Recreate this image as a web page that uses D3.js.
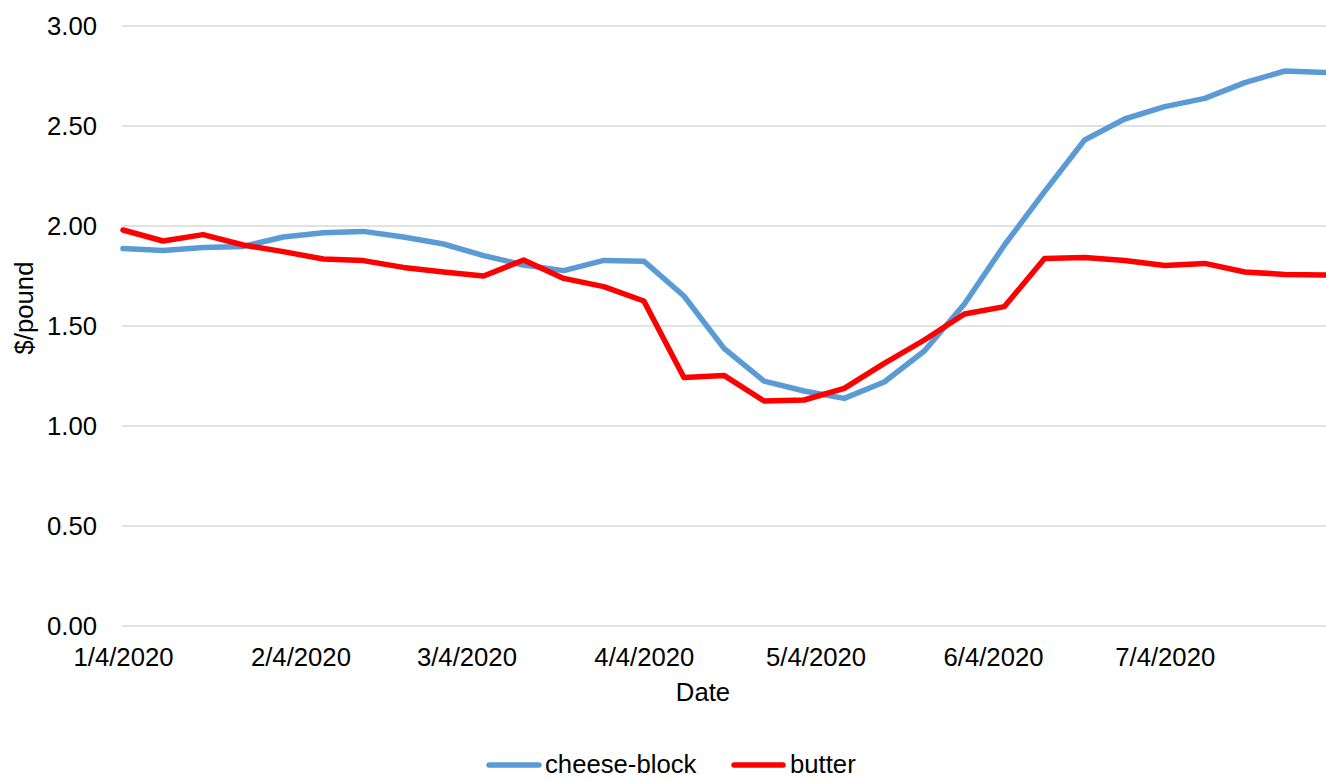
<!DOCTYPE html>
<html>
<head>
<meta charset="utf-8">
<script src="https://cdn.jsdelivr.net/npm/d3@7"></script>
<style>
  html, body { margin: 0; padding: 0; background: #fff; }
  svg { display: block; font-family: "Liberation Sans", Arial, sans-serif; }
</style>
</head>
<body>
<svg id="chart" width="1326" height="779"></svg>
<script>
// Weekly wholesale prices, $/pound, week starting 1/4/2020
const startDate = "2020-01-04";
const weekCount = 31;

const cheeseBlock = [
  1.887, 1.878, 1.892, 1.898, 1.945, 1.966, 1.973, 1.945, 1.910, 1.852,
  1.805, 1.777, 1.828, 1.824, 1.650, 1.388, 1.224, 1.175, 1.138, 1.220,
  1.375, 1.610, 1.905, 2.172, 2.430, 2.535, 2.597, 2.638, 2.717, 2.775,
  2.768
];

const butter = [
  1.980, 1.925, 1.957, 1.905, 1.872, 1.835, 1.827, 1.793, 1.770, 1.750,
  1.830, 1.738, 1.697, 1.625, 1.242, 1.253, 1.125, 1.130, 1.188, 1.313,
  1.430, 1.560, 1.597, 1.838, 1.843, 1.828, 1.802, 1.813, 1.770, 1.758,
  1.755
];

const seriesNames = ["cheese-block", "butter"];
const seriesColors = ["#5B9BD5", "#FF0000"];

const yTicks = [0, 0.5, 1.0, 1.5, 2.0, 2.5, 3.0];
const xTickLabels = ["1/4/2020", "2/4/2020", "3/4/2020", "4/4/2020", "5/4/2020", "6/4/2020", "7/4/2020"];

const parseDate = d3.timeParse("%Y-%m-%d");
const parseLabel = d3.timeParse("%-m/%-d/%Y");
const fmtLabel = d3.timeFormat("%-m/%-d/%Y");

const start = parseDate(startDate);
const dates = d3.range(weekCount).map(i => d3.timeDay.offset(start, 7 * i));

const svg = d3.select("#chart");
const fontSize = 25.7;

const x = d3.scaleTime()
  .domain([dates[0], dates[dates.length - 1]])
  .range([123, 1325]);
const y = d3.scaleLinear().domain([0, 3]).range([626, 26]);

const gridLeft = 122, gridRight = 1326;

// horizontal gridlines
svg.append("g")
  .selectAll("line")
  .data(yTicks)
  .join("line")
  .attr("x1", gridLeft).attr("x2", gridRight)
  .attr("y1", d => y(d)).attr("y2", d => y(d))
  .attr("stroke", "#d9d9d9")
  .attr("stroke-width", 1.5);

// y axis labels
const yAxis = d3.axisLeft(y).tickValues(yTicks).tickFormat(d3.format(".2f")).tickSize(0).tickPadding(0);
const gy = svg.append("g").attr("transform", "translate(97,0)").call(yAxis);
gy.select(".domain").remove();
gy.selectAll("text")
  .attr("font-size", fontSize)
  .attr("font-family", "Liberation Sans, Arial, sans-serif")
  .attr("fill", "#000");

// x axis labels
const xAxis = d3.axisBottom(x)
  .tickValues(xTickLabels.map(parseLabel))
  .tickFormat(fmtLabel)
  .tickSize(0)
  .tickPadding(0);
const gx = svg.append("g").attr("transform", "translate(0,648)").call(xAxis);
gx.select(".domain").remove();
gx.selectAll("text")
  .attr("dy", "0.71em")
  .attr("font-size", fontSize)
  .attr("font-family", "Liberation Sans, Arial, sans-serif")
  .attr("fill", "#000");

// axis titles
svg.append("text")
  .attr("x", 703).attr("y", 701)
  .attr("text-anchor", "middle")
  .attr("font-size", fontSize)
  .text("Date");

svg.append("text")
  .attr("transform", "translate(33,308) rotate(-90)")
  .attr("text-anchor", "middle")
  .attr("font-size", fontSize)
  .text("$/pound");

// lines
const line = d3.line()
  .x((d, i) => x(dates[i]))
  .y(d => y(d));

[cheeseBlock, butter].forEach((vals, k) => {
  svg.append("path")
    .datum(vals)
    .attr("d", line)
    .attr("fill", "none")
    .attr("stroke", seriesColors[k])
    .attr("stroke-width", 5.5)
    .attr("stroke-linejoin", "round")
    .attr("stroke-linecap", "round");
});

// legend
const legendItems = [
  { x1: 489, x2: 539, tx: 545 },
  { x1: 734, x2: 783, tx: 790 }
];
legendItems.forEach((it, k) => {
  svg.append("line")
    .attr("x1", it.x1).attr("x2", it.x2)
    .attr("y1", 765).attr("y2", 765)
    .attr("stroke", seriesColors[k])
    .attr("stroke-width", 5.5)
    .attr("stroke-linecap", "round");
  svg.append("text")
    .attr("x", it.tx).attr("y", 773)
    .attr("font-size", fontSize)
    .text(seriesNames[k]);
});
</script>
</body>
</html>
